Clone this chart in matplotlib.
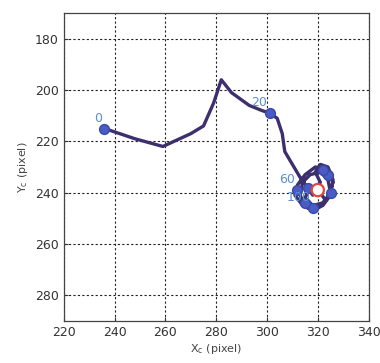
import matplotlib
matplotlib.use("Agg")
import matplotlib.pyplot as plt
from matplotlib.patches import Circle

# Centroid trajectory (pixel coordinates)
path_x = [236, 248, 259, 270, 275, 279, 282, 286, 293, 298, 301, 304, 306, 307,
          310, 313, 316, 318, 321, 319, 321, 324, 326, 325, 322, 318, 314, 311,
          312, 315, 319, 323, 326, 324, 320, 315, 313, 314, 317, 321, 324, 325,
          322, 318, 315, 317, 321, 323]
path_y = [215, 219, 222, 217, 214, 205, 196, 201, 206, 208, 209, 211, 217, 224,
          229, 234, 238, 241, 236, 232, 229, 230, 235, 241, 245, 247, 245, 241,
          237, 233, 230, 231, 236, 242, 246, 245, 241, 236, 233, 232, 235, 240,
          244, 245, 242, 238, 240, 243]

# Frame markers along the path
mark_x = [236, 301, 316, 312, 324, 318, 325, 315, 322]
mark_y = [215, 209, 238, 239, 233, 246, 240, 244, 231]
mark_labels = ["0", "20", "", "60", "", "100", "", "", ""]

# Target position
target_x, target_y = 320, 239

fig = plt.figure(figsize=(3.8, 3.63), dpi=100)
ax = fig.add_axes([0.168, 0.116, 0.802, 0.848])

ax.plot(path_x, path_y, color="#3d2f6e", lw=2.4, zorder=3)
ax.scatter(mark_x, mark_y, s=50, color="#4a5cc4", edgecolor="#3a4aa8", zorder=4)
for x, y, t in zip(mark_x, mark_y, mark_labels):
    if t:
        ax.text(x - 1, y - 1.5, t, color="#5b8fd0", fontsize=9,
                ha="right", va="bottom", zorder=5)

ax.add_patch(Circle((target_x, target_y), 2.4, fc="white", ec="#e0483a",
                    lw=1.6, zorder=6))

ax.set_xlim(220, 340)
ax.set_ylim(290, 170)
ax.set_xticks(range(220, 341, 20))
ax.set_yticks(range(180, 281, 20))
ax.grid(True, color="#222222", linestyle=(0, (2, 2)), lw=0.8)
ax.tick_params(direction="in", labelsize=9, colors="#333333", length=3)
for s in ax.spines.values():
    s.set_color("#444444")
    s.set_linewidth(0.9)

ax.set_xlabel(r"X$_\mathrm{c}$ (pixel)", fontsize=8, color="#444444", labelpad=2)
ax.set_ylabel(r"Y$_\mathrm{c}$ (pixel)", fontsize=8, color="#444444", labelpad=4)

fig.savefig("out.png", dpi=100)
